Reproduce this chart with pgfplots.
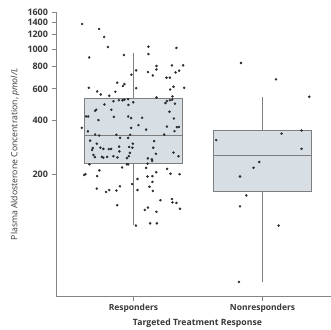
\documentclass[border=0pt]{standalone}
\usepackage{pgfplots}
\pgfplotsset{compat=1.18}
\usepackage{fontspec}
\setmainfont{Open Sans}
\definecolor{boxfill}{HTML}{D7DEE4}
\definecolor{boxedge}{HTML}{7E7E7E}
\definecolor{axcol}{HTML}{858585}
\definecolor{txt}{HTML}{383838}
\definecolor{ptc}{HTML}{2A2A2A}
\begin{document}
\begin{tikzpicture}
\begin{axis}[
  at={(0,0)}, anchor=south west,
  scale only axis, width=275bp, height=284.4bp,
  ymode=log, ymin=41.8, ymax=1600, xmin=0.4, xmax=2.53,
  axis x line*=bottom, axis y line*=left,
  axis line style={draw=axcol, line width=0.9pt, -},
  ytick={200,400,600,800,1000,1200,1400,1600},
  yticklabels={200,400,600,800,1000,1200,1400,1600},
  yminorticks=false,
  xtick={1,2}, xticklabels={Responders,Nonresponders},
  tick align=outside, major tick length=4bp,
  tick style={draw=axcol, line width=0.9pt},
  xticklabel style={font=\fontsize{8.5}{10}\selectfont\bfseries, text=txt},
  yticklabel style={font=\fontsize{9}{10}\selectfont\bfseries, text=txt, xshift=-0.5bp},
  ylabel={Plasma Aldosterone Concentration, \textit{pmol/L}},
  ylabel style={at={(axis description cs:-0.149,0.5)}, anchor=center, font=\fontsize{8.7}{10}\selectfont, text=txt},
  xlabel={Targeted Treatment Response},
  xlabel style={at={(axis description cs:0.5145,-0.094)}, anchor=center, font=\fontsize{8.7}{10}\selectfont\bfseries, text=txt},
  clip=false,
]
% boxes (Q1 to Q3)
\addplot[draw=boxedge, fill=boxfill, line width=0.9pt] coordinates {(0.623,230)(1.377,230)(1.377,530)(0.623,530)} -- cycle;
\addplot[draw=boxedge, fill=boxfill, line width=0.9pt] coordinates {(1.623,161)(2.377,161)(2.377,351)(1.623,351)} -- cycle;
% medians
\addplot[draw=boxedge, line width=0.9pt] coordinates {(0.623,329)(1.377,329)};
\addplot[draw=boxedge, line width=0.9pt] coordinates {(1.623,256)(2.377,256)};
% whiskers
\addplot[draw=boxedge, line width=0.9pt] coordinates {(1,530)(1,950)};
\addplot[draw=boxedge, line width=0.9pt] coordinates {(1,230)(1,104.5)};
\addplot[draw=boxedge, line width=0.9pt] coordinates {(2,351)(2,540)};
\addplot[draw=boxedge, line width=0.9pt] coordinates {(2,161)(2,50.4)};
\addplot[only marks, mark=*, mark size=1.05pt, color=ptc] coordinates {
(0.602,1377)(0.734,1292)(0.773,1166)(0.802,1025)(0.657,897)(0.926,925)(1.116,1030)(1.116,937)(1.333,1013)(1.021,760)(0.984,719)(1.112,744)(1.150,712)(1.178,804)(1.178,769)(1.298,810)(1.385,810)(1.354,757)(1.326,740)(1.256,692)(1.282,692)(0.654,608)(0.719,580)(0.747,558)(0.812,549)(0.860,578)(0.874,649)(0.918,622)(0.930,638)(1.021,605)(1.178,537)(1.310,616)(1.284,595)(1.393,608)(1.302,544)
(0.775,491)(0.845,512)(0.887,518)(0.915,518)(0.930,522)(0.959,526)(0.961,488)(0.998,505)(0.703,453)(0.711,459)(0.633,421)(0.649,421)(0.729,402)(0.829,459)(0.848,419)(0.959,421)(0.982,412)(1.067,414)(1.039,377)(0.982,364)(1.098,356)(1.248,500)(1.259,513)(1.282,518)(1.300,522)(1.321,496)(1.279,447)(1.313,410)(1.352,368)(1.336,367)(1.259,370)(0.600,364)(0.647,348)(0.703,334)(0.734,330)(0.868,333)(0.897,320)(0.959,320)(0.974,333)(1.238,334)(1.318,349)
(0.664,309)(0.716,297)(0.744,282)(0.767,278)(0.685,281)(0.680,274)(0.809,277)(0.827,278)(0.889,286)(0.891,269)(0.967,285)(0.972,264)(0.995,297)(0.992,282)(1.160,307)(1.153,282)(1.174,261)(1.310,265)(1.349,253)(0.690,257)(0.701,250)(0.755,251)(0.767,248)(0.796,251)(0.845,253)(0.876,249)(0.949,247)(0.964,253)(1.143,243)(1.112,246)
(0.618,199)(0.628,201)(0.719,196)(0.736,211)(0.659,228)(0.912,219)(0.949,228)(0.959,228)(1.098,218)(1.109,230)(1.145,238)(0.716,167)(0.788,160)(0.812,164)(0.868,163)(0.895,172)(0.874,135)(0.990,177)(1.031,189)(1.031,164)(1.109,195)(1.147,196)(1.176,206)(1.147,182)(1.124,171)(1.150,162)(1.261,215)(1.287,202)(1.357,201)(1.209,144)(1.298,146)(1.302,140)(1.333,139)(1.360,129)(1.088,127)(1.112,131)(1.178,124)(1.019,104)(1.129,107)(1.181,107)
};
\addplot[only marks, mark=*, mark size=1.05pt, color=ptc] coordinates {
(1.833,835)(2.104,677)(2.362,542)(1.641,311)(2.147,338)(2.302,352)(2.302,278)(1.974,235)(1.930,218)(1.825,195)(1.874,153)(1.825,133)(2.124,104)(1.817,50.5)
};
\end{axis}
\pgfresetboundingbox
\path (-56bp,-33.3bp) rectangle (275bp,296.7bp);
\end{tikzpicture}
\end{document}
